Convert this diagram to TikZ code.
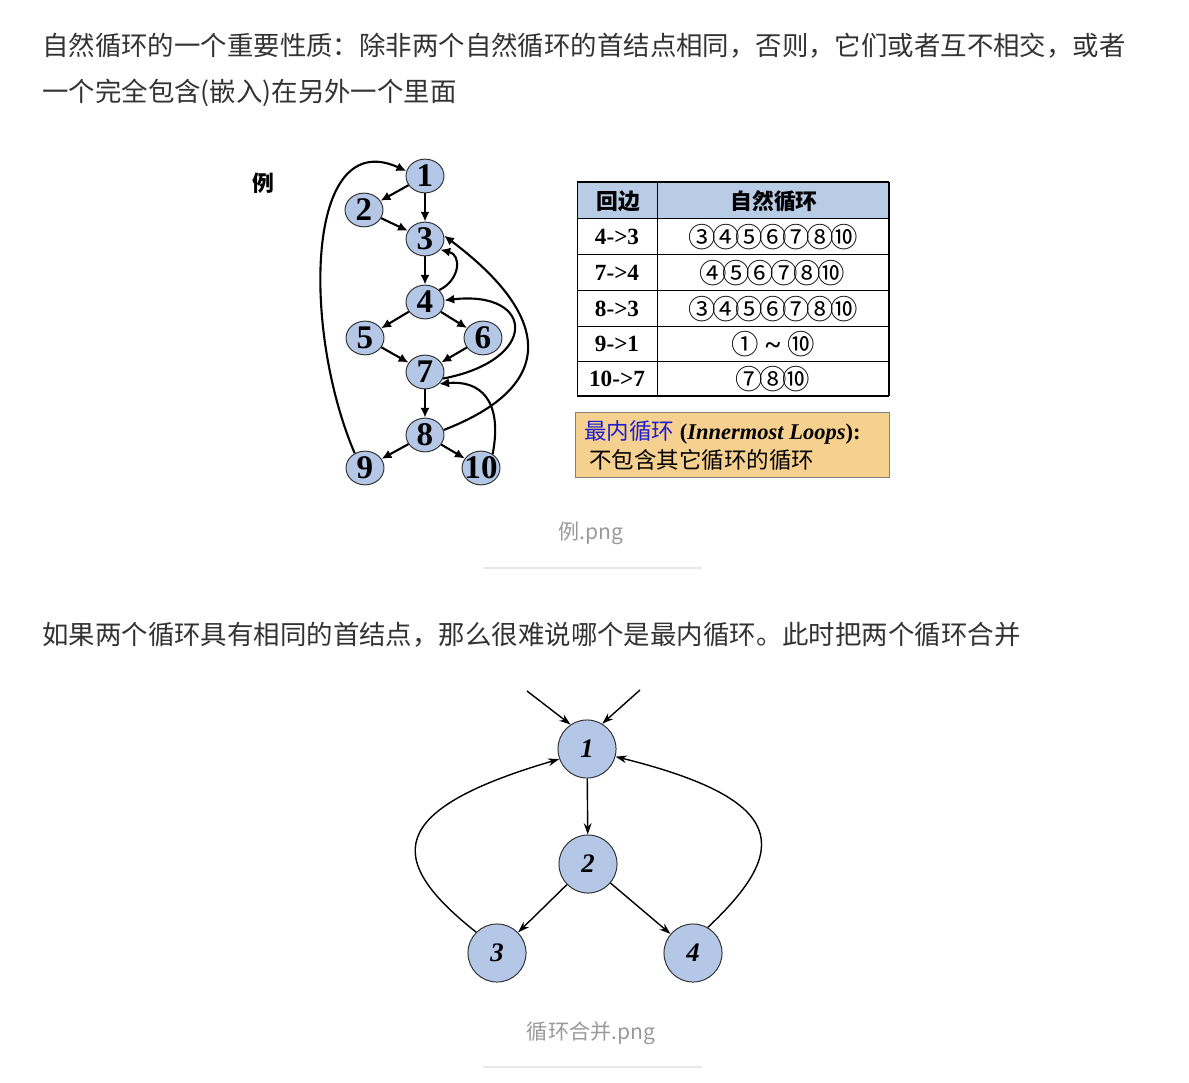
\documentclass[tikz,border=0pt]{standalone}
\usepackage{fontspec}
\usepackage{graphicx}
\setmainfont{Liberation Serif}
\newfontfamily\cjk{Noto Sans CJK SC}
\newfontfamily\circnum{Noto Sans CJK SC}[LetterSpace=-14]
\usetikzlibrary{arrows.meta, shapes.geometric}
\definecolor{bodytext}{HTML}{333333}
\definecolor{capgray}{HTML}{999999}
\definecolor{sepgray}{HTML}{E8E8E8}
\definecolor{nodefill}{HTML}{B4C7E7}
\definecolor{nodeline}{HTML}{333333}
\definecolor{headfill}{HTML}{B8CCE6}
\definecolor{notefill}{HTML}{F5D08E}
\definecolor{noteblue}{HTML}{1E1ED2}

\begin{document}
\begin{tikzpicture}[x=0.025cm, y=-0.025cm]
   \tikzstyle{para}=[anchor=west, inner sep=0pt, text=bodytext, font=\cjk\fontsize{18.8pt}{22pt}\selectfont]
   \tikzstyle{caption}=[inner sep=0pt, text=capgray, font=\cjk\fontsize{15pt}{18pt}\selectfont]
   \tikzstyle{sepline}=[sepgray, line width=0.8pt]
   \tikzstyle{vert}=[ellipse, draw=nodeline, line width=0.7pt, fill=nodefill, minimum width=27pt, minimum height=24pt, inner sep=0pt, font=\fontsize{23.5pt}{24pt}\selectfont\bfseries]
   \tikzstyle{flow}=[line width=1.5pt, -{Latex[length=7pt,width=6.5pt]}]
   \tikzstyle{blk}=[circle, draw=nodeline, line width=0.7pt, fill=nodefill, minimum size=41.3pt, inner sep=0pt, font=\fontsize{19pt}{20pt}\selectfont\bfseries\itshape]
   \tikzstyle{merge}=[line width=1pt, -{Stealth[length=8pt,width=5.5pt]}]
   \tikzstyle{headtxt}=[inner sep=0pt, font=\cjk\bfseries\fontsize{15.5pt}{18pt}\selectfont]
   \tikzstyle{backedge}=[inner sep=0pt, font=\fontsize{16.5pt}{18pt}\selectfont\bfseries]
   \tikzstyle{loopset}=[inner sep=0pt, font=\circnum\fontsize{19.5pt}{22pt}\selectfont]
   \tikzstyle{notetxt}=[anchor=west, inner sep=0pt, font=\fontsize{16pt}{18pt}\selectfont]

   \useasboundingbox (0,0) rectangle (1189,1083);

   % text of the page
   \node[para] (line1) at (42,46) {\resizebox{27.075cm}{\height}{自然循环的一个重要性质：除非两个自然循环的首结点相同，否则，它们或者互不相交，或者}};
   \node[para] (line2) at (42,93) {一个完全包含(嵌入)在另外一个里面};
   \node[caption] (cap1) at (591,533) {例.png};
   \draw[sepline] (483,568) -- (702,568);
   \node[para] (line3) at (42,635) {如果两个循环具有相同的首结点，那么很难说哪个是最内循环。此时把两个循环合并};
   \node[caption] (cap2) at (591,1033) {循环合并.png};
   \draw[sepline] (483,1067) -- (702,1067);

   % first picture
   \node[font=\cjk\bfseries\fontsize{15.5pt}{18pt}\selectfont] (li) at (263,183) {例};
   \node[vert] (1) at (425,176) {1};
   \node[vert] (2) at (364,210) {2};
   \node[vert] (3) at (425,239) {3};
   \node[vert] (4) at (425,302) {4};
   \node[vert] (5) at (365,338) {5};
   \node[vert] (6) at (483,338) {6};
   \node[vert] (7) at (425,372) {7};
   \node[vert] (8) at (425,435) {8};
   \node[vert] (9) at (365,468) {9};
   \node[vert] (10) at (481,468) {\makebox[0pt]{10}};

   \draw[flow] (1) -- (2);
   \draw[flow] (1) -- (3);
   \draw[flow] (2) -- (3);
   \draw[flow] (3) -- (4);
   \draw[flow] (4) -- (5);
   \draw[flow] (4) -- (6);
   \draw[flow] (5) -- (7);
   \draw[flow] (6) -- (7);
   \draw[flow] (7) -- (8);
   \draw[flow] (8) -- (9);
   \draw[flow] (8) -- (10);
   \draw[flow] (4.40) .. controls (460,280) and (462,255) .. (3.-35);
   \draw[flow] (7.-20) .. controls (540,360) and (535,290) .. (4.5);
   \draw[flow] (8.15) .. controls (560,385) and (550,315) .. (3.10);
   \draw[flow] (10.50) .. controls (503,400) and (480,380) .. (7.-40);
   \draw[flow] (9.125) .. controls (302,330) and (305,125) .. (1.165);

   % table
   \fill[headfill] (577,182) rectangle (889,218);
   \draw[line width=0.6pt] (577,218) -- (889,218);
   \draw[line width=0.6pt] (577,254) -- (889,254);
   \draw[line width=0.6pt] (577,290) -- (889,290);
   \draw[line width=0.6pt] (577,326) -- (889,326);
   \draw[line width=0.6pt] (577,361) -- (889,361);
   \draw[line width=0.6pt] (577,182) -- (577,396);
   \draw[line width=0.6pt] (657,182) -- (657,396);
   \draw[line width=1.5pt] (577,182) -- (889,182);
   \draw[line width=1.5pt] (577,396) -- (889,396);
   \draw[line width=1.5pt] (889,182) -- (889,396);

   \node[headtxt] (h1) at (618,201) {回边};
   \node[headtxt] (h2) at (774,201) {自然循环};
   \node[backedge] (e1) at (617,237) {4->3};
   \node[backedge] (e2) at (617,273) {7->4};
   \node[backedge] (e3) at (617,309) {8->3};
   \node[backedge] (e4) at (617,344) {9->1};
   \node[backedge] (e5) at (617,379) {10->7};
   \node[loopset] (s1) at (773,237) {③④⑤⑥⑦⑧⑩};
   \node[loopset] (s2) at (772,273) {④⑤⑥⑦⑧⑩};
   \node[loopset] (s3) at (773,309) {③④⑤⑥⑦⑧⑩};
   \node[loopset] (s4) at (773,344) {①\hspace{5pt}{\rmfamily\bfseries\fontsize{20pt}{20pt}\selectfont\textasciitilde}\hspace{5pt}⑩};
   \node[loopset] (s5) at (773,379) {⑦⑧⑩};

   \filldraw[fill=notefill, draw=gray, line width=0.6pt] (575,412) rectangle (889,477);
   \node[notetxt] (n1) at (584,432) {{\cjk\color{noteblue}最内循环} \textbf{(\textit{Innermost Loops}):}};
   \node[notetxt] (n2) at (589,460) {\cjk 不包含其它循环的循环};

   % second picture
   \node[blk] (m1) at (587,749) {1};
   \node[blk] (m2) at (588,864) {2};
   \node[blk] (m3) at (497,953) {3};
   \node[blk] (m4) at (693,953) {4};
   \coordinate (inl) at (527,691);
   \coordinate (inr) at (640,690);

   \draw[merge] (inl) -- (m1.124);
   \draw[merge] (inr) -- (m1.59);
   \draw[merge] (m1) -- (m2);
   \draw[merge] (m2) -- (m3);
   \draw[merge] (m2) -- (m4);
   \draw[merge] (m3.135) .. controls (385,860) and (385,810) .. (m1.200);
   \draw[merge] (m4.60) .. controls (790,850) and (790,800) .. (m1.-15);
\end{tikzpicture}
\end{document}
